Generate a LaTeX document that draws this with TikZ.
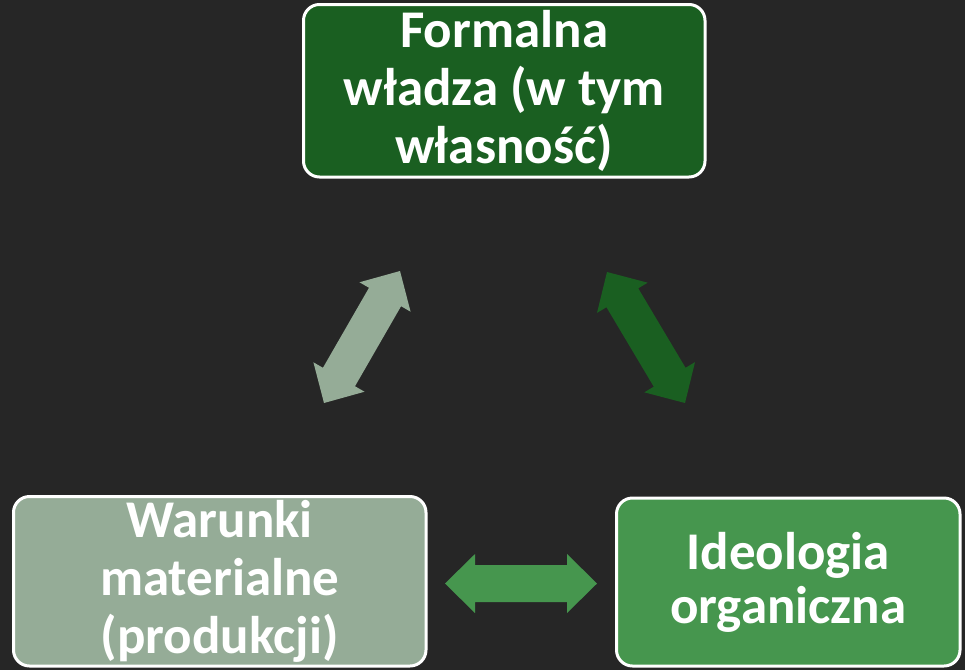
\documentclass[tikz,border=0pt]{standalone}
\usepackage{fontspec}
\setmainfont{Carlito}
\usetikzlibrary{calc}
\definecolor{bgcol}{HTML}{262626}
\definecolor{darkgreen}{HTML}{1A5F21}
\definecolor{midgreen}{HTML}{46964E}
\definecolor{palegreen}{HTML}{95AC97}
\newcommand\dblblockarrow[3]{%
  \coordinate (#1h) at ($(#1)!30pt!(#2)$);
  \coordinate (#2h) at ($(#2)!30pt!(#1)$);
  \fill[#3] (#1)
    -- ($(#1h)!29.5pt!90:(#2)$) -- ($(#1h)!18.5pt!90:(#2)$)
    -- ($(#2h)!18.5pt!-90:(#1)$) -- ($(#2h)!29.5pt!-90:(#1)$)
    -- (#2)
    -- ($(#2h)!29.5pt!90:(#1)$) -- ($(#2h)!18.5pt!90:(#1)$)
    -- ($(#1h)!18.5pt!-90:(#2)$) -- ($(#1h)!29.5pt!-90:(#2)$)
    -- cycle;}
\begin{document}
\begin{tikzpicture}[x=1pt,y=-1pt,
  box/.style={draw=white, line width=3pt, rounded corners=16pt, text=white,
    align=center, inner sep=0pt, font=\bfseries\fontsize{53}{58}\selectfont},
]
\fill[bgcol] (0,0) rectangle (965,670);
\useasboundingbox (0,0) rectangle (965,670);
% boxes
\node[box, fill=darkgreen, minimum width=401.5pt, minimum height=172.5pt]
  (top) at (504.25,90.75) {Formalna\\władza (w tym\\własność)};
\node[box, fill=palegreen, minimum width=412.5pt, minimum height=169.5pt]
  (left) at (219.75,581.25) {Warunki\\materialne\\(produkcji)};
\node[box, fill=midgreen, minimum width=343.5pt, minimum height=168pt,
  font=\bfseries\fontsize{53}{54}\selectfont]
  (right) at (788.25,582) {Ideologia\\organiczna};
% arrow end points
\coordinate (la) at (324,403);
\coordinate (lb) at (400,271);
\coordinate (ra) at (607,272);
\coordinate (rb) at (685,403);
\coordinate (ba) at (445,583.5);
\coordinate (bb) at (597,583.5);
\dblblockarrow{la}{lb}{palegreen}
\dblblockarrow{ra}{rb}{darkgreen}
\dblblockarrow{ba}{bb}{midgreen}
\end{tikzpicture}
\end{document}
